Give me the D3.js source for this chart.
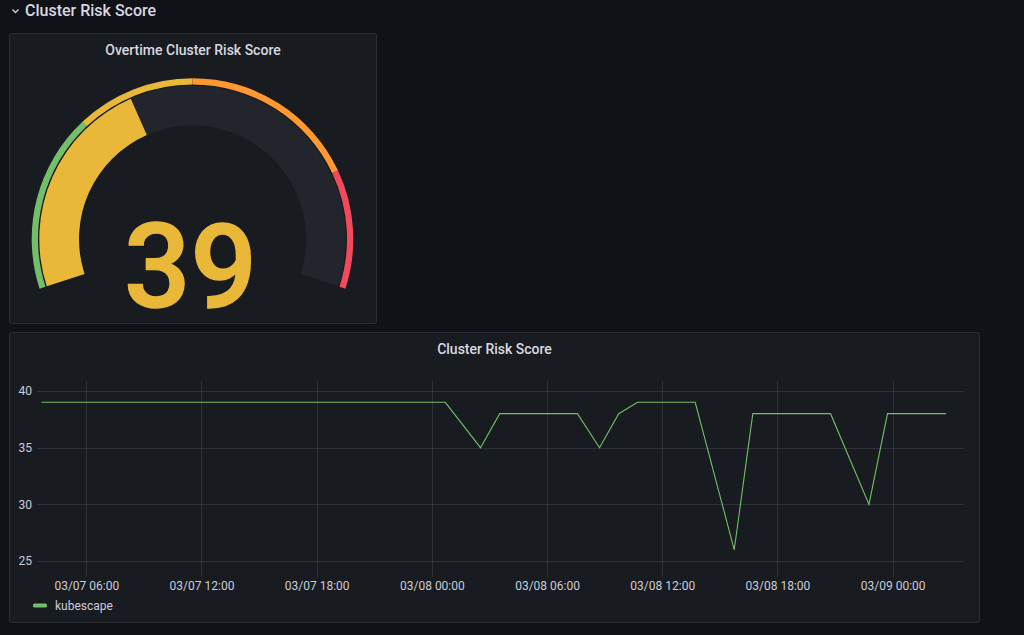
<!DOCTYPE html>
<head>
<meta charset="utf-8">
<title>Cluster Risk Score</title>
<script type="text/javascript" src="https://cdn.jsdelivr.net/npm/d3@7/dist/d3.min.js"></script>
<style>
body { margin: 0; background: #111217; }
svg { display: block; font-family: Roboto, "Noto Sans", sans-serif; }
.axis text { font: 12px Roboto, sans-serif; fill: #ccccdc; }
.axis path { display: none; }
.grid line { stroke: rgba(204,204,220,0.13); shape-rendering: crispEdges; }
.grid path { display: none; }
</style>
</head>
<body>
<script>
// gauge
var gaugeValue = 39;
var gaugeMin = 0, gaugeMax = 100;
var thresholdSteps = [0, 30, 50, 80];
var thresholdColors = ["#73BF69", "#EAB839", "#FF9830", "#F2495C"];

// time series (kubescape)
var seriesName = "kubescape";
var times = ["2022-03-07 03:40", "2022-03-08 00:42", "2022-03-08 02:32", "2022-03-08 03:32",
	"2022-03-08 07:35", "2022-03-08 08:44", "2022-03-08 09:44", "2022-03-08 10:43",
	"2022-03-08 13:43", "2022-03-08 15:45", "2022-03-08 16:43", "2022-03-08 20:46",
	"2022-03-08 22:46", "2022-03-08 23:44", "2022-03-09 02:47"];
var scores = [39, 39, 35, 38, 38, 35, 38, 39, 39, 26, 38, 38, 30, 38, 38];
var yTicks = [25, 30, 35, 40];
var timeRange = ["2022-03-07 03:26", "2022-03-09 03:43"];
var scoreRange = [23.6, 40.88];

var parse = d3.timeParse("%Y-%m-%d %H:%M");

var svg = d3.select("body").append("svg")
	.attr("width", 1024)
	.attr("height", 635);

// row header
svg.append("path")
	.attr("d", "M12.5,9.5 L15.5,12.5 L18.5,9.5")
	.attr("fill", "none")
	.attr("stroke", "#ccccdc")
	.attr("stroke-width", 1.4);
svg.append("text")
	.attr("x", 25).attr("y", 16)
	.attr("fill", "#d8d9e0")
	.style("font-size", "16px").style("font-weight", 500)
	.text("Cluster Risk Score");

function panel(x, y, w, h, title) {
	var g = svg.append("g").attr("transform", "translate(" + x + "," + y + ")");
	g.append("rect")
		.attr("x", 0.5).attr("y", 0.5)
		.attr("width", w - 1).attr("height", h - 1)
		.attr("rx", 2)
		.attr("fill", "#181b1f")
		.attr("stroke", "#2a2d33");
	g.append("text")
		.attr("x", w / 2).attr("y", 22)
		.attr("text-anchor", "middle")
		.attr("fill", "#d8d9e0")
		.style("font-size", "14px").style("font-weight", 500)
		.text(title);
	return g;
}

// ---- gauge panel
panel(9, 33, 368, 291, "Overtime Cluster Risk Score");

var cx = 192.5, cy = 239;
var span = 0.6 * Math.PI;
var angle = d3.scaleLinear().domain([gaugeMin, gaugeMax]).range([-span, span]);
var gauge = svg.append("g").attr("transform", "translate(" + cx + "," + cy + ")");

var bands = thresholdSteps.map(function (s, i) {
	return { from: s, to: i + 1 < thresholdSteps.length ? thresholdSteps[i + 1] : gaugeMax, color: thresholdColors[i] };
});
var bandArc = d3.arc().innerRadius(154.5).outerRadius(160.8);
gauge.selectAll("path.band").data(bands).enter().append("path")
	.attr("class", "band")
	.attr("d", function (d) { return bandArc({ startAngle: angle(d.from), endAngle: angle(d.to) }); })
	.attr("fill", function (d) { return d.color; });

var barArc = d3.arc().innerRadius(113.5).outerRadius(153.2);
gauge.append("path")
	.attr("d", barArc({ startAngle: angle(gaugeMin), endAngle: angle(gaugeMax) }))
	.attr("fill", "#22252b");

var valueColor = thresholdColors[d3.bisectRight(thresholdSteps, gaugeValue) - 1];
gauge.append("path")
	.attr("d", barArc({ startAngle: angle(gaugeMin), endAngle: angle(gaugeValue) }))
	.attr("fill", valueColor);

svg.append("text")
	.attr("x", 190.5).attr("y", 307)
	.attr("text-anchor", "middle")
	.attr("fill", valueColor)
	.attr("stroke", valueColor)
	.attr("stroke-width", 1.5)
	.style("font-size", "117px").style("font-weight", 500)
	.text(gaugeValue);

// ---- time series panel
panel(9, 332, 971, 291, "Cluster Risk Score");

var data = times.map(function (t, i) { return { t: parse(t), v: scores[i] }; });

var x = d3.scaleTime().domain(timeRange.map(parse)).range([37, 964]);
var y = d3.scaleLinear().domain(scoreRange).range([577, 381]);

var xTicks = x.ticks(d3.timeHour.every(6));

svg.append("g")
	.attr("class", "grid")
	.attr("transform", "translate(0,577)")
	.call(d3.axisBottom(x).tickValues(xTicks).tickSize(-196).tickFormat(""));
svg.append("g")
	.attr("class", "grid")
	.attr("transform", "translate(37,0)")
	.call(d3.axisLeft(y).tickValues(yTicks).tickSize(-927).tickFormat(""));

svg.append("g")
	.attr("class", "axis")
	.attr("transform", "translate(0,577)")
	.call(d3.axisBottom(x).tickValues(xTicks).tickSize(0).tickPadding(4)
		.tickFormat(d3.timeFormat("%m/%d %H:%M")));
svg.append("g")
	.attr("class", "axis")
	.attr("transform", "translate(32,0)")
	.call(d3.axisLeft(y).tickValues(yTicks).tickSize(0).tickPadding(0));

svg.append("path")
	.datum(data)
	.attr("fill", "none")
	.attr("stroke", "#73BF69")
	.attr("stroke-width", 1.1)
	.attr("d", d3.line().x(function (d) { return x(d.t); }).y(function (d) { return y(d.v); }));

// legend
svg.append("rect")
	.attr("x", 33).attr("y", 603.5)
	.attr("width", 14).attr("height", 4)
	.attr("rx", 1.5)
	.attr("fill", "#73BF69");
svg.append("text")
	.attr("x", 55).attr("y", 609.5)
	.attr("fill", "#ccccdc")
	.style("font-size", "12px")
	.text(seriesName);
</script>
</body>
